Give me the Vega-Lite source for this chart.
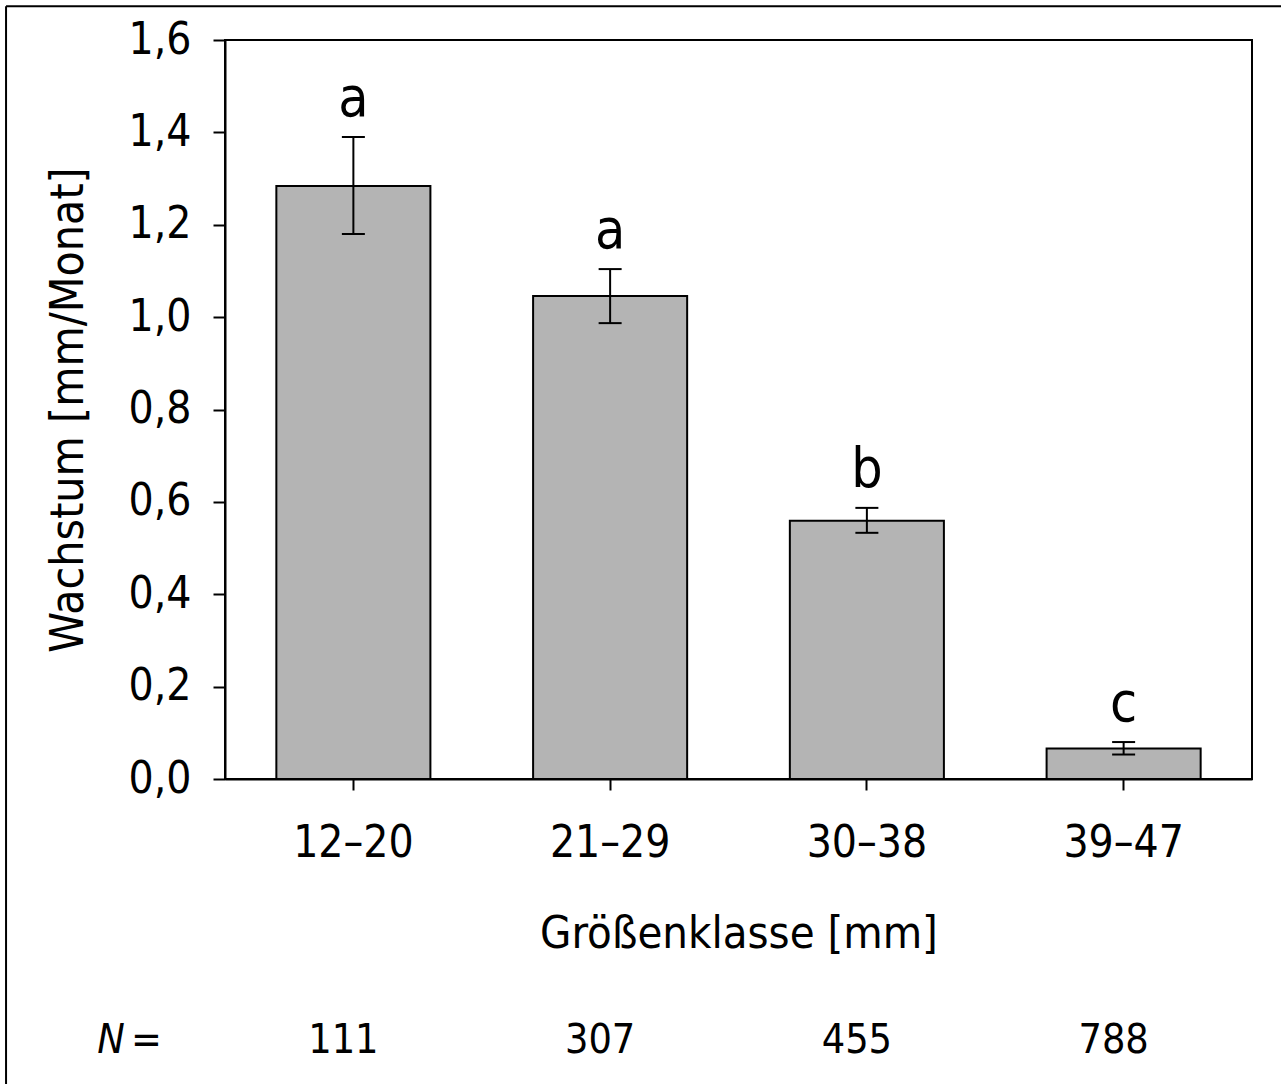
{
  "$schema": "https://vega.github.io/schema/vega-lite/v6.json",
  "width": 1027,
  "height": 739,
  "autosize": {"type": "none"},
  "padding": {"left": 225, "top": 40, "right": 29, "bottom": 305},
  "background": "white",
  "config": {
    "font": "DejaVu Sans Condensed, DejaVu Sans",
    "view": {"stroke": "black", "strokeWidth": 2},
    "text": {"color": "black"}
  },
  "datasets": {
    "bars": [
      {"klasse": "12–20", "wachstum": 1.284, "lo": 1.180, "hi": 1.390, "gruppe": "a", "n": 111},
      {"klasse": "21–29", "wachstum": 1.046, "lo": 0.987, "hi": 1.104, "gruppe": "a", "n": 307},
      {"klasse": "30–38", "wachstum": 0.559, "lo": 0.533, "hi": 0.587, "gruppe": "b", "n": 455},
      {"klasse": "39–47", "wachstum": 0.066, "lo": 0.053, "hi": 0.080, "gruppe": "c", "n": 788}
    ]
  },
  "layer": [
    {
      "data": {"name": "bars"},
      "encoding": {
        "x": {
          "field": "klasse",
          "type": "nominal",
          "sort": null,
          "scale": {"paddingInner": 0.4, "paddingOuter": 0.2},
          "axis": {
            "title": "Größenklasse [mm]",
            "titleFontSize": 45,
            "titleFontWeight": "normal",
            "titleColor": "black",
            "titlePadding": 46,
            "labelFontSize": 44,
            "labelAngle": 0,
            "labelColor": "black",
            "labelPadding": 31,
            "tickSize": 11,
            "tickWidth": 2,
            "tickColor": "black",
            "domainColor": "black",
            "domainWidth": 2
          }
        }
      },
      "layer": [
        {
          "mark": {"type": "bar", "fill": "#b4b4b4", "stroke": "black", "strokeWidth": 2},
          "encoding": {
            "y": {
              "field": "wachstum",
              "type": "quantitative",
              "scale": {"domain": [0, 1.6], "nice": false},
              "axis": {
                "title": "Wachstum [mm/Monat]",
                "titleFontSize": 46,
                "titleFontWeight": "normal",
                "titleColor": "black",
                "titlePadding": 36,
                "values": [0, 0.2, 0.4, 0.6, 0.8, 1.0, 1.2, 1.4, 1.6],
                "labelExpr": "replace(format(datum.value, '.1f'), '.', ',')",
                "labelFontSize": 44,
                "labelColor": "black",
                "labelPadding": 22,
                "tickSize": 12,
                "tickWidth": 2,
                "tickColor": "black",
                "domainColor": "black",
                "domainWidth": 2,
                "grid": false
              }
            }
          }
        },
        {
          "mark": {"type": "rule", "stroke": "black", "strokeWidth": 2},
          "encoding": {
            "y": {"field": "lo", "type": "quantitative"},
            "y2": {"field": "hi"}
          }
        },
        {
          "mark": {"type": "tick", "orient": "horizontal", "size": 23, "thickness": 2, "color": "black", "opacity": 1},
          "encoding": {"y": {"field": "hi", "type": "quantitative"}}
        },
        {
          "mark": {"type": "tick", "orient": "horizontal", "size": 23, "thickness": 2, "color": "black", "opacity": 1},
          "encoding": {"y": {"field": "lo", "type": "quantitative"}}
        },
        {
          "mark": {"type": "text", "baseline": "alphabetic", "dy": -21, "fontSize": 55, "color": "black"},
          "encoding": {
            "y": {"field": "hi", "type": "quantitative"},
            "text": {"field": "gruppe"}
          }
        },
        {
          "mark": {"type": "text", "baseline": "middle", "dx": -10, "fontSize": 41, "color": "black", "clip": false},
          "encoding": {
            "y": {"datum": -0.568, "type": "quantitative"},
            "text": {"field": "n"}
          }
        }
      ]
    },
    {
      "data": {"values": [{}]},
      "layer": [
        {
          "mark": {"type": "rule", "stroke": "black", "strokeWidth": 2, "clip": false},
          "encoding": {
            "x": {"datum": -0.2132, "type": "quantitative", "scale": {"domain": [0, 1]}, "axis": null},
            "x2": {"datum": 1.05},
            "y": {"datum": 1.673, "type": "quantitative"},
            "y2": {"datum": 1.673}
          }
        },
        {
          "mark": {"type": "rule", "stroke": "black", "strokeWidth": 2, "clip": false},
          "encoding": {
            "x": {"datum": -0.2132, "type": "quantitative", "scale": {"domain": [0, 1]}, "axis": null},
            "y": {"datum": -0.7, "type": "quantitative"},
            "y2": {"datum": 1.673}
          }
        },
        {
          "mark": {"type": "text", "baseline": "middle", "align": "center", "fontSize": 41, "fontStyle": "italic", "color": "black", "clip": false},
          "encoding": {
            "x": {"datum": -0.1110, "type": "quantitative", "scale": {"domain": [0, 1]}, "axis": null},
            "y": {"datum": -0.568, "type": "quantitative"},
            "text": {"value": "N"}
          }
        },
        {
          "mark": {"type": "text", "baseline": "middle", "align": "center", "fontSize": 41, "color": "black", "clip": false},
          "encoding": {
            "x": {"datum": -0.0764, "type": "quantitative", "scale": {"domain": [0, 1]}, "axis": null},
            "y": {"datum": -0.568, "type": "quantitative"},
            "text": {"value": "="}
          }
        }
      ]
    }
  ],
  "resolve": {"scale": {"x": "independent"}, "axis": {"x": "independent"}}
}
